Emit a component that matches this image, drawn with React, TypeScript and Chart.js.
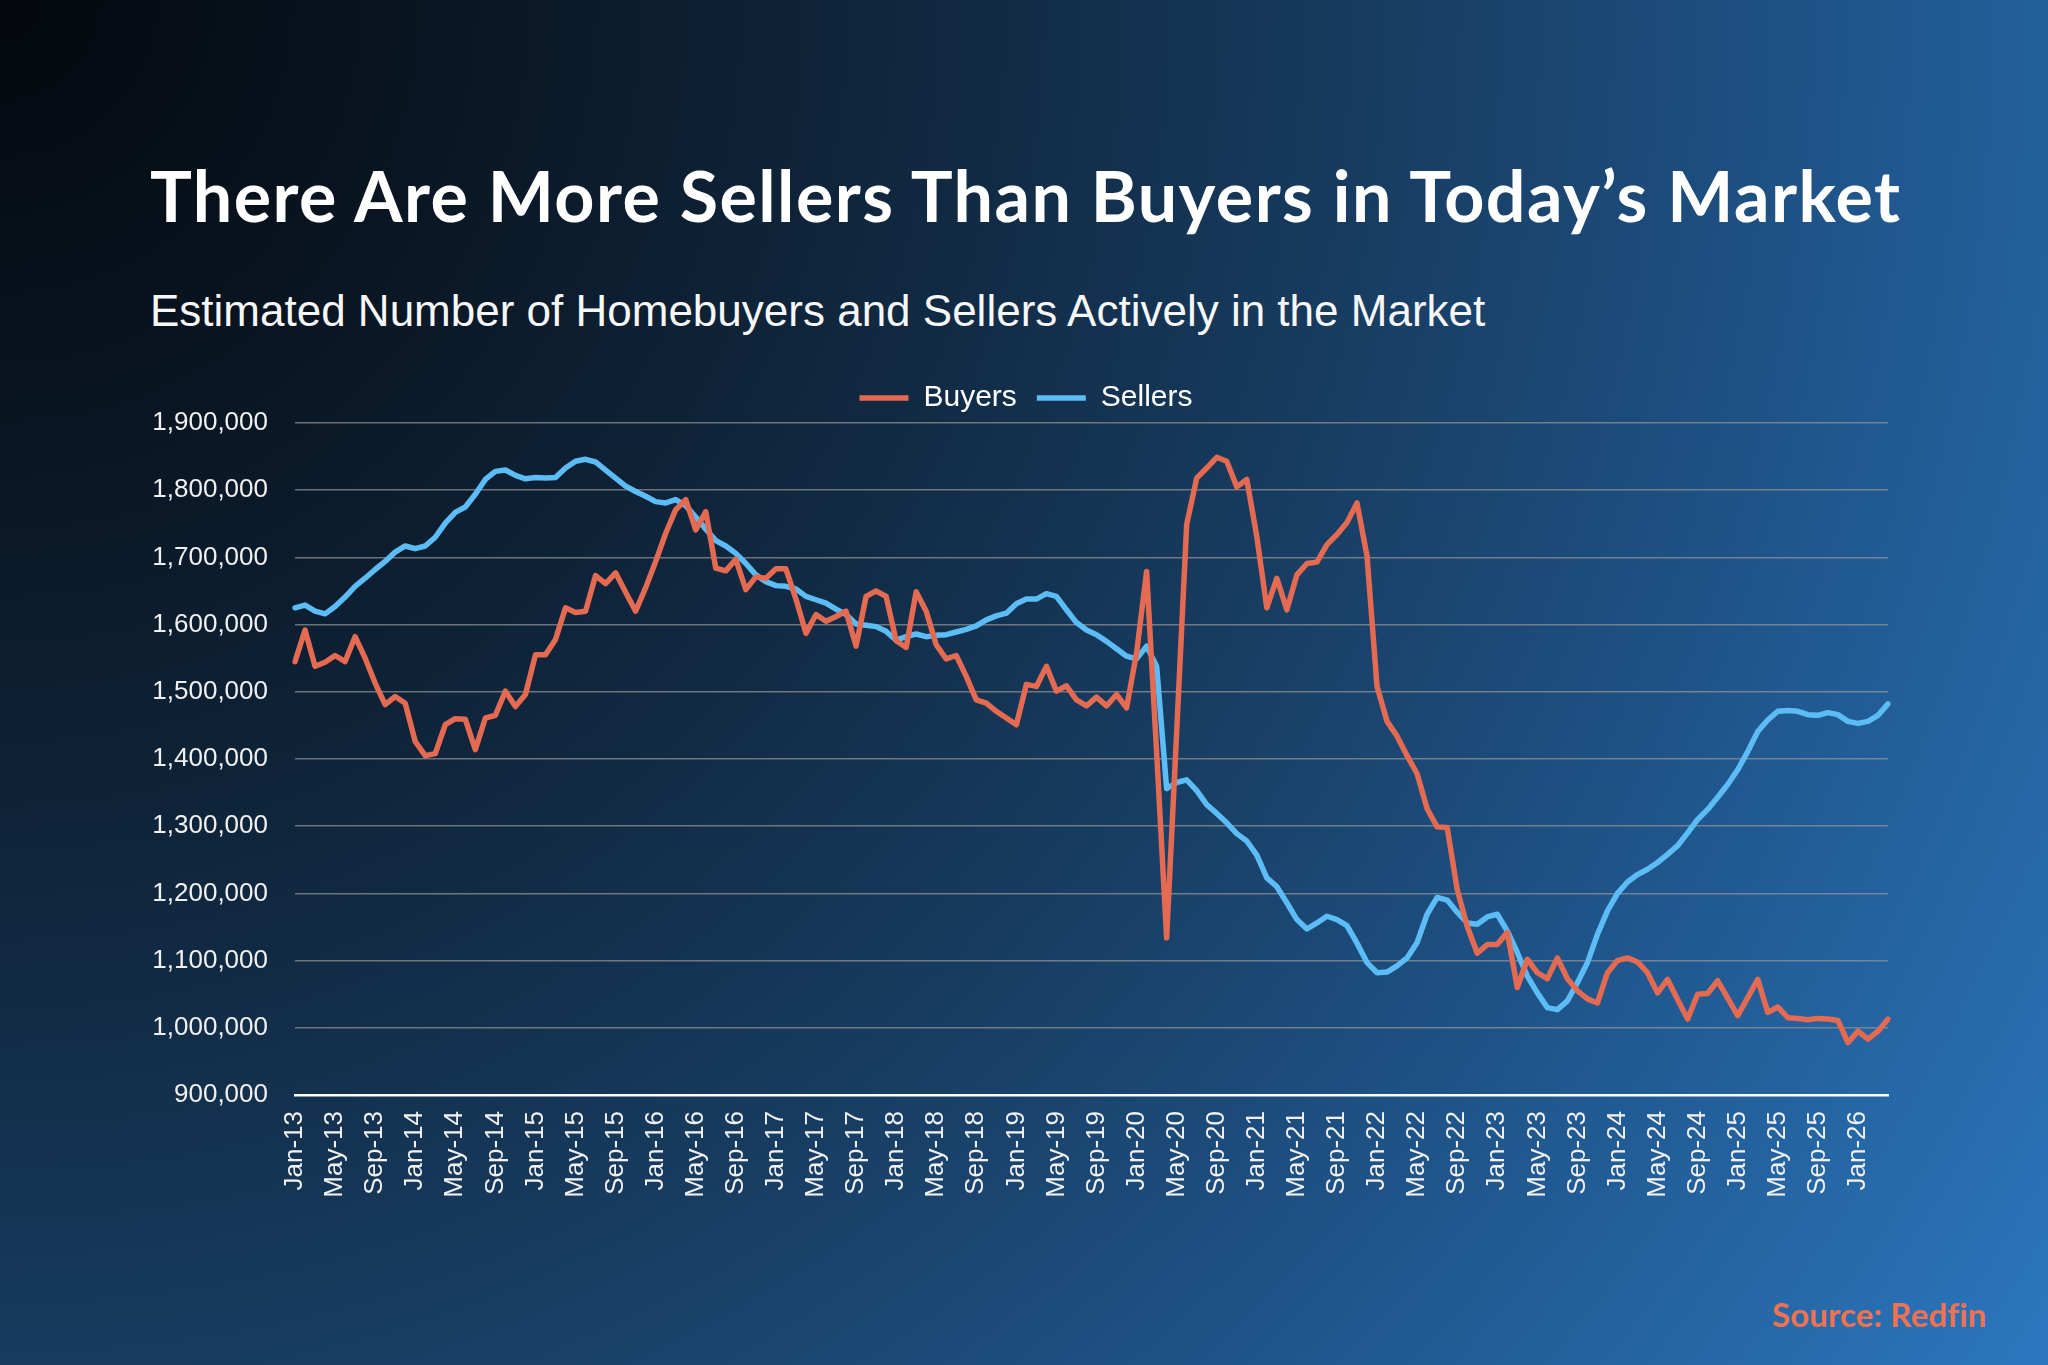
import React, { useEffect, useLayoutEffect, useRef } from "react";
import { Chart, registerables } from "chart.js";

Chart.register(...registerables);

// ---------- data ----------
const MONTHS = ["Jan", "Feb", "Mar", "Apr", "May", "Jun", "Jul", "Aug", "Sep", "Oct", "Nov", "Dec"];
const YEARS = ["13", "14", "15", "16", "17", "18", "19", "20", "21", "22", "23", "24", "25", "26"];
const CATEGORIES: string[] = YEARS.flatMap((y) => MONTHS.map((m) => `${m}-${y}`)).slice(0, 160);

const X_TICK_LABELS = [
  "Jan-13", "May-13", "Sep-13", "Jan-14", "May-14", "Sep-14", "Jan-15", "May-15", "Sep-15",
  "Jan-16", "May-16", "Sep-16", "Jan-17", "May-17", "Sep-17", "Jan-18", "May-18", "Sep-18",
  "Jan-19", "May-19", "Sep-19", "Jan-20", "May-20", "Sep-20", "Jan-21", "May-21", "Sep-21",
  "Jan-22", "May-22", "Sep-22", "Jan-23", "May-23", "Sep-23", "Jan-24", "May-24", "Sep-24",
  "Jan-25", "May-25", "Sep-25", "Jan-26",
];

const BUYERS = [
  1545000, 1592000, 1538000, 1544000, 1554000, 1545000, 1582000, 1550000, 1513000, 1481000, 1493000, 1483000,
  1426000, 1405000, 1408000, 1451000, 1460000, 1459000, 1414000, 1461000, 1465000, 1501000, 1478000, 1496000,
  1555000, 1555000, 1578000, 1625000, 1618000, 1620000, 1673000, 1661000, 1677000, 1648000, 1620000, 1655000,
  1694000, 1736000, 1771000, 1786000, 1741000, 1768000, 1684000, 1680000, 1697000, 1652000, 1671000, 1669000,
  1683000, 1683000, 1638000, 1587000, 1615000, 1605000, 1612000, 1620000, 1568000, 1642000, 1650000, 1642000,
  1576000, 1566000, 1649000, 1620000, 1570000, 1549000, 1554000, 1523000, 1488000, 1483000, 1471000, 1461000,
  1451000, 1511000, 1508000, 1538000, 1501000, 1509000, 1488000, 1479000, 1492000, 1479000, 1496000, 1476000,
  1558000, 1679000, 1410000, 1134000, 1440000, 1749000, 1818000, 1833000, 1849000, 1843000, 1805000, 1816000,
  1731000, 1625000, 1669000, 1622000, 1674000, 1691000, 1693000, 1719000, 1734000, 1752000, 1781000, 1702000,
  1508000, 1456000, 1434000, 1405000, 1378000, 1326000, 1299000, 1298000, 1206000, 1151000, 1111000, 1124000,
  1124000, 1142000, 1060000, 1102000, 1082000, 1073000, 1104000, 1073000, 1055000, 1043000, 1037000, 1082000,
  1100000, 1104000, 1098000, 1082000, 1052000, 1072000, 1042000, 1013000, 1050000, 1051000, 1070000, 1044000,
  1018000, 1045000, 1072000, 1023000, 1031000, 1015000, 1014000, 1012000, 1014000, 1013000, 1011000, 978000,
  995000, 983000, 995000, 1013000,
];

const SELLERS = [
  1625000, 1629000, 1620000, 1616000, 1627000, 1641000, 1657000, 1669000, 1682000, 1694000, 1708000, 1717000,
  1713000, 1717000, 1730000, 1751000, 1767000, 1775000, 1794000, 1816000, 1828000, 1830000, 1822000, 1817000,
  1819000, 1818000, 1819000, 1833000, 1843000, 1846000, 1842000, 1830000, 1818000, 1806000, 1798000, 1791000,
  1783000, 1781000, 1786000, 1777000, 1760000, 1742000, 1725000, 1717000, 1706000, 1691000, 1674000, 1664000,
  1658000, 1657000, 1653000, 1642000, 1637000, 1632000, 1623000, 1615000, 1601000, 1599000, 1597000, 1590000,
  1577000, 1582000, 1586000, 1582000, 1584000, 1585000, 1589000, 1593000, 1598000, 1607000, 1613000, 1617000,
  1631000, 1638000, 1638000, 1646000, 1642000, 1622000, 1603000, 1592000, 1585000, 1575000, 1564000, 1553000,
  1549000, 1568000, 1538000, 1356000, 1365000, 1369000, 1353000, 1332000, 1319000, 1305000, 1289000, 1278000,
  1257000, 1223000, 1210000, 1186000, 1161000, 1147000, 1156000, 1166000, 1161000, 1152000, 1126000, 1097000,
  1082000, 1083000, 1092000, 1104000, 1127000, 1169000, 1194000, 1190000, 1172000, 1156000, 1154000, 1165000,
  1169000, 1144000, 1112000, 1077000, 1052000, 1030000, 1027000, 1040000, 1067000, 1097000, 1139000, 1174000,
  1200000, 1217000, 1228000, 1236000, 1246000, 1258000, 1271000, 1290000, 1310000, 1325000, 1343000, 1362000,
  1384000, 1411000, 1441000, 1458000, 1471000, 1472000, 1471000, 1466000, 1465000, 1469000, 1466000, 1456000,
  1453000, 1456000, 1465000, 1482000,
];

const Y_MIN = 900000;
const Y_MAX = 1900000;
const Y_STEP = 100000;

const TITLE = "There Are More Sellers Than Buyers in Today\u2019s Market";
const SUBTITLE = "Estimated Number of Homebuyers and Sellers Actively in the Market";
const SOURCE = "Source: Redfin";

// ---------- styles ----------
const BUYER_COLOR = "#E46A52";
const SELLER_COLOR = "#5CBDF6";
const GRID_COLOR = "rgba(150,150,150,0.7)";
const TICK_COLOR = "#f0f0f0";
const SANS = "'Liberation Sans', Arial, Helvetica, sans-serif";
const GEO = "Lato, 'Open Sans', sans-serif";

function FitText({ text, width, style }: { text: string; width: number; style: React.CSSProperties }) {
  const ref = useRef<HTMLSpanElement>(null);
  useLayoutEffect(() => {
    const el = ref.current;
    if (!el) return;
    el.style.letterSpacing = "0px";
    const w = el.getBoundingClientRect().width;
    const n = Array.from(text).length;
    if (n > 1) el.style.letterSpacing = `${(width - w) / (n - 1)}px`;
  }, [text, width]);
  return (
    <span ref={ref} style={{ ...style, display: "inline-block", whiteSpace: "pre" }}>
      {text}
    </span>
  );
}

// shifts the legend horizontally so it sits centred on the page
const legendShift = {
  id: "legendShift",
  afterLayout(chart: any) {
    const l = chart.legend;
    if (l) {
      l.left += 12;
      l.right += 12;
    }
  },
};

export default function App() {
  const canvasRef = useRef<HTMLCanvasElement>(null);

  useEffect(() => {
    const canvas = canvasRef.current;
    if (!canvas) return;
    const chart = new Chart(canvas, {
      type: "line",
      data: {
        labels: CATEGORIES,
        datasets: [
          {
            label: "Buyers",
            data: BUYERS,
            borderColor: BUYER_COLOR,
            backgroundColor: BUYER_COLOR,
            borderWidth: 5.5,
            pointRadius: 0,
            pointHoverRadius: 0,
            tension: 0,
            borderJoinStyle: "round",
            borderCapStyle: "round",
            pointStyle: "line",
          },
          {
            label: "Sellers",
            data: SELLERS,
            borderColor: SELLER_COLOR,
            backgroundColor: SELLER_COLOR,
            borderWidth: 5.5,
            pointRadius: 0,
            pointHoverRadius: 0,
            tension: 0,
            borderJoinStyle: "round",
            borderCapStyle: "round",
            pointStyle: "line",
          },
        ],
      },
      options: {
        responsive: false,
        maintainAspectRatio: false,
        animation: false,
        devicePixelRatio: 1,
        layout: { padding: { left: 140, right: 160, top: 363, bottom: 0 } },
        plugins: {
          legend: {
            display: true,
            position: "top",
            labels: {
              color: "#ffffff",
              font: { family: SANS, size: 30 },
              usePointStyle: true,
              pointStyle: "line",
              pointStyleWidth: 49,
              padding: 20,
            },
          },
          tooltip: { enabled: false },
        },
        scales: {
          x: {
            type: "category",
            grid: { display: false, drawTicks: false },
            border: { display: true, color: "#ffffff", width: 2.5 },
            ticks: {
              autoSkip: false,
              minRotation: 90,
              maxRotation: 90,
              padding: 16,
              color: TICK_COLOR,
              font: { family: SANS, size: 26 },
              callback: (_v: any, i: number) =>
                X_TICK_LABELS.includes(CATEGORIES[i]) ? CATEGORIES[i] : "",
            },
            afterFit: (s: any) => {
              s.height = 270;
            },
          },
          y: {
            min: Y_MIN,
            max: Y_MAX,
            grid: { color: GRID_COLOR, lineWidth: 1.6, drawTicks: false },
            border: { display: false },
            ticks: {
              stepSize: Y_STEP,
              padding: 27,
              color: TICK_COLOR,
              font: { family: SANS, size: 26 },
              callback: (v: any) => Number(v).toLocaleString("en-US"),
            },
            afterFit: (s: any) => {
              s.width = 155;
            },
          },
        },
      },
      plugins: [legendShift],
    });
    return () => chart.destroy();
  }, []);

  return (
    <div
      style={{
        position: "absolute",
        left: 0,
        top: 0,
        width: 2048,
        height: 1365,
        overflow: "hidden",
        background:
          "radial-gradient(circle farthest-corner at 0 0, #04080d 0%, #0a1725 20%, #112a43 40%, #173b5f 55%, #1d4e7f 70%, #24629f 85%, #2b77be 100%)",
      }}
    >
      <div style={{ position: "absolute", left: 150, top: 160, lineHeight: "70px" }}>
        <FitText
          text={TITLE}
          width={1750}
          style={{ fontFamily: GEO, fontWeight: 700, fontSize: 70, lineHeight: "70px", color: "#ffffff" }}
        />
      </div>
      <div
        style={{
          position: "absolute",
          left: 150,
          top: 288.8,
          fontFamily: SANS,
          fontSize: 44,
          lineHeight: "44px",
          color: "#f7f7f7",
          whiteSpace: "nowrap",
        }}
      >
        {SUBTITLE}
      </div>
      <div style={{ position: "absolute", left: 1772, top: 1298.4, lineHeight: "33px" }}>
        <FitText
          text={SOURCE}
          width={214}
          style={{ fontFamily: GEO, fontWeight: 700, fontSize: 33, lineHeight: "33px", color: "#F07250" }}
        />
      </div>
      <canvas
        ref={canvasRef}
        width={2048}
        height={1365}
        style={{ position: "absolute", left: 0, top: 0, width: 2048, height: 1365 }}
      />
    </div>
  );
}
